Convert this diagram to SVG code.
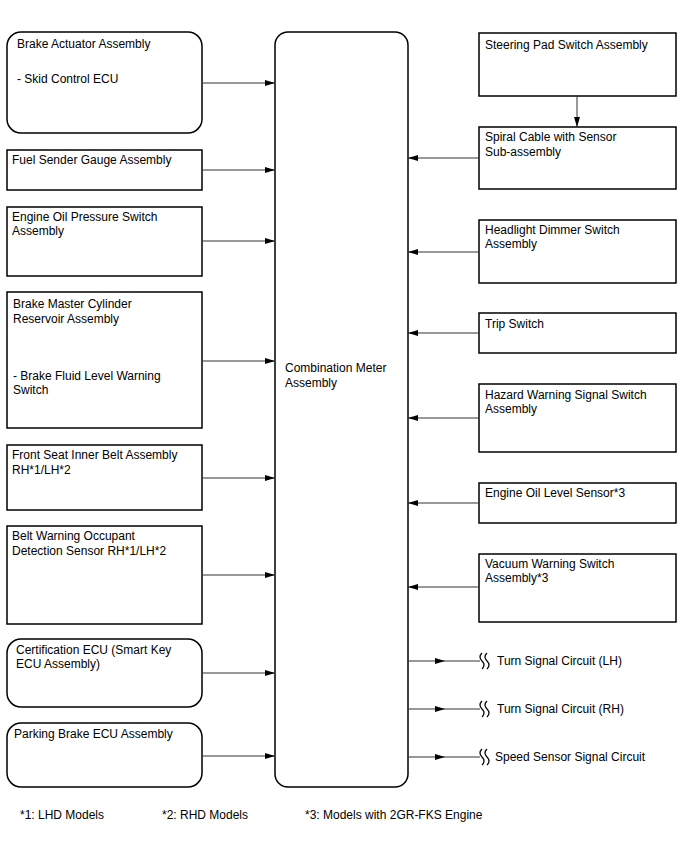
<svg xmlns="http://www.w3.org/2000/svg" width="688" height="852" viewBox="0 0 688 852">
<style>
text{font-family:"Liberation Sans",Arial,sans-serif;font-size:12px;fill:#000}
.box{fill:#fff;stroke:#000;stroke-width:1.5}
.ln{stroke:#333;stroke-width:1;fill:none}
.wv{stroke:#000;stroke-width:1.2;fill:none}
</style>
<defs>
<marker id="ah" viewBox="0 0 10 6" refX="10" refY="3" markerWidth="10" markerHeight="6" markerUnits="userSpaceOnUse" orient="auto">
<path d="M0,0 L10,3 L0,6 z" fill="#000"/>
</marker>
<marker id="mid" viewBox="0 0 10 6" refX="5" refY="3" markerWidth="10" markerHeight="6" markerUnits="userSpaceOnUse" orient="auto">
<path d="M0,0 L10,3 L0,6 z" fill="#000"/>
</marker>
</defs>
<rect width="688" height="852" fill="#fff"/>

<g id="combination-meter">
<rect class="box" x="275" y="32" width="133" height="755" rx="13"/>
<text x="285" y="372">Combination Meter</text>
<text x="285" y="387">Assembly</text>
</g>

<g id="brake-actuator">
<rect class="box" x="7" y="32" width="195" height="101" rx="14"/>
<text x="17" y="48">Brake Actuator Assembly</text>
<text x="17" y="83">- Skid Control ECU</text>
</g>
<g id="fuel-sender">
<rect class="box" x="7" y="150" width="195" height="40"/>
<text x="12" y="164">Fuel Sender Gauge Assembly</text>
</g>
<g id="engine-oil-pressure">
<rect class="box" x="7" y="207" width="195" height="69"/>
<text x="12" y="221">Engine Oil Pressure Switch</text>
<text x="12" y="235">Assembly</text>
</g>
<g id="brake-master">
<rect class="box" x="7" y="292" width="195" height="136"/>
<text x="13" y="308">Brake Master Cylinder</text>
<text x="13" y="323">Reservoir Assembly</text>
<text x="13" y="380">- Brake Fluid Level Warning</text>
<text x="13" y="394">Switch</text>
</g>
<g id="front-seat-belt">
<rect class="box" x="7" y="445" width="195" height="65"/>
<text x="12" y="459">Front Seat Inner Belt Assembly</text>
<text x="12" y="474">RH*1/LH*2</text>
</g>
<g id="belt-warning">
<rect class="box" x="7" y="526" width="195" height="98"/>
<text x="12" y="540">Belt Warning Occupant</text>
<text x="12" y="555">Detection Sensor RH*1/LH*2</text>
</g>
<g id="certification-ecu">
<rect class="box" x="7" y="639" width="195" height="68" rx="14"/>
<text x="16" y="654">Certification ECU (Smart Key</text>
<text x="16" y="668">ECU Assembly)</text>
</g>
<g id="parking-brake">
<rect class="box" x="7" y="723" width="195" height="64" rx="14"/>
<text x="14" y="738">Parking Brake ECU Assembly</text>
</g>

<g id="steering-pad">
<rect class="box" x="479" y="33" width="197" height="63"/>
<text x="485" y="49">Steering Pad Switch Assembly</text>
</g>
<g id="spiral-cable">
<rect class="box" x="479" y="127" width="197" height="62"/>
<text x="485" y="141">Spiral Cable with Sensor</text>
<text x="485" y="156">Sub-assembly</text>
</g>
<g id="headlight-dimmer">
<rect class="box" x="479" y="220" width="197" height="63"/>
<text x="485" y="234">Headlight Dimmer Switch</text>
<text x="485" y="248">Assembly</text>
</g>
<g id="trip-switch">
<rect class="box" x="479" y="313" width="197" height="40"/>
<text x="485" y="328">Trip Switch</text>
</g>
<g id="hazard-switch">
<rect class="box" x="479" y="384" width="197" height="68"/>
<text x="485" y="399">Hazard Warning Signal Switch</text>
<text x="485" y="413">Assembly</text>
</g>
<g id="engine-oil-level">
<rect class="box" x="479" y="483" width="197" height="40"/>
<text x="485" y="497">Engine Oil Level Sensor*3</text>
</g>
<g id="vacuum-warning">
<rect class="box" x="479" y="554" width="197" height="68"/>
<text x="485" y="568">Vacuum Warning Switch</text>
<text x="485" y="582">Assembly*3</text>
</g>

<g id="turn-lh">
<path class="wv" d="M482,653 q-4,4 0,8 q4,4 0,8 M487,653 q-4,4 0,8 q4,4 0,8"/>
<text x="497" y="665">Turn Signal Circuit (LH)</text>
</g>
<g id="turn-rh">
<path class="wv" d="M482,701 q-4,4 0,8 q4,4 0,8 M487,701 q-4,4 0,8 q4,4 0,8"/>
<text x="497" y="713">Turn Signal Circuit (RH)</text>
</g>
<g id="speed-sensor">
<path class="wv" d="M482,749 q-4,4 0,8 q4,4 0,8 M487,749 q-4,4 0,8 q4,4 0,8"/>
<text x="495" y="761">Speed Sensor Signal Circuit</text>
</g>

<g id="footnotes">
<text x="20" y="819">*1: LHD Models</text>
<text x="162" y="819">*2: RHD Models</text>
<text x="305" y="819">*3: Models with 2GR-FKS Engine</text>
</g>

<g id="connectors">
<line class="ln" x1="202" y1="83" x2="275" y2="83" marker-end="url(#ah)"/>
<line class="ln" x1="202" y1="170" x2="275" y2="170" marker-end="url(#ah)"/>
<line class="ln" x1="202" y1="241" x2="275" y2="241" marker-end="url(#ah)"/>
<line class="ln" x1="202" y1="361" x2="275" y2="361" marker-end="url(#ah)"/>
<line class="ln" x1="202" y1="478" x2="275" y2="478" marker-end="url(#ah)"/>
<line class="ln" x1="202" y1="575" x2="275" y2="575" marker-end="url(#ah)"/>
<line class="ln" x1="202" y1="673" x2="275" y2="673" marker-end="url(#ah)"/>
<line class="ln" x1="202" y1="756" x2="275" y2="756" marker-end="url(#ah)"/>
<line class="ln" x1="577" y1="96" x2="577" y2="127" marker-end="url(#ah)"/>
<line class="ln" x1="479" y1="158" x2="408" y2="158" marker-end="url(#ah)"/>
<line class="ln" x1="479" y1="252" x2="408" y2="252" marker-end="url(#ah)"/>
<line class="ln" x1="479" y1="333" x2="408" y2="333" marker-end="url(#ah)"/>
<line class="ln" x1="479" y1="418" x2="408" y2="418" marker-end="url(#ah)"/>
<line class="ln" x1="479" y1="503" x2="408" y2="503" marker-end="url(#ah)"/>
<line class="ln" x1="479" y1="587" x2="408" y2="587" marker-end="url(#ah)"/>
<polyline class="ln" points="408,661 440,661 480,661" marker-mid="url(#mid)"/>
<polyline class="ln" points="408,709 440,709 480,709" marker-mid="url(#mid)"/>
<polyline class="ln" points="408,757 440,757 480,757" marker-mid="url(#mid)"/>
</g>
</svg>
